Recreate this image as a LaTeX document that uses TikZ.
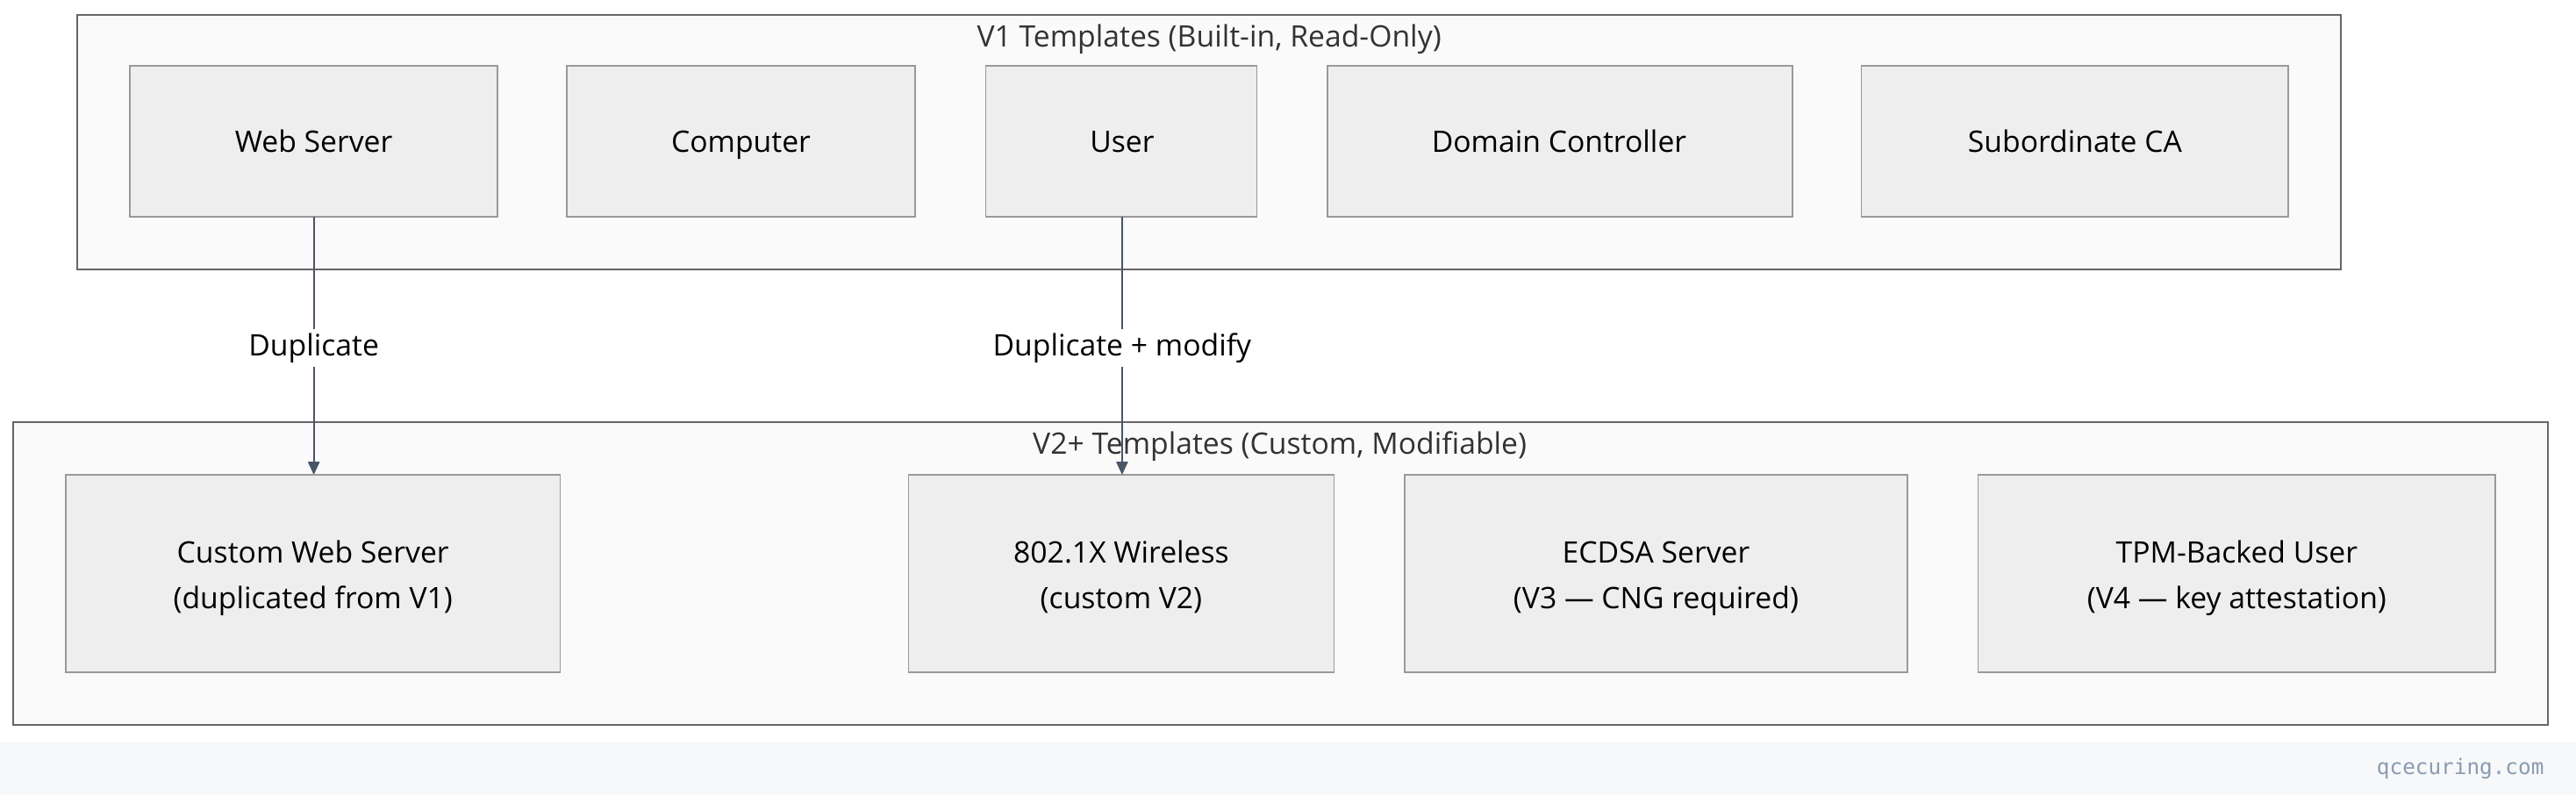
\documentclass[tikz,border=0pt]{standalone}
\usepackage{fontspec}
\setmainfont{Open Sans}
\setmonofont{DejaVu Sans Mono}
\usetikzlibrary{arrows.meta}
\definecolor{boxfill}{HTML}{EEEEEE}
\definecolor{boxdraw}{HTML}{999999}
\definecolor{grpfill}{HTML}{FAFAFA}
\definecolor{grpdraw}{HTML}{666666}
\definecolor{arr}{HTML}{4A5568}
\definecolor{strip}{HTML}{F6F8FA}
\definecolor{wm}{HTML}{8A9BB0}
\begin{document}
\begin{tikzpicture}[x=1pt,y=-1pt,
  grp/.style={draw=grpdraw,fill=grpfill,line width=1pt},
  box/.style={draw=boxdraw,fill=boxfill,line width=1pt},
  txt/.style={font=\fontsize{18}{28}\selectfont,align=center,text=black,text height=13pt,text depth=4pt},
  ttl/.style={font=\fontsize{18}{20}\selectfont,text=black!80,text height=13pt,text depth=4pt},
  lab/.style={font=\fontsize{18}{20}\selectfont,fill=white,inner sep=3pt,text height=13pt,text depth=4pt},
  conn/.style={draw=arr,line width=1.2pt,-{Triangle[length=8pt,width=7pt]}}]
\useasboundingbox (0,0) rectangle (1568,484);
\fill[white] (0,0) rectangle (1568,484);
\fill[strip] (0,452) rectangle (1568,484);
\node[font=\ttfamily\fontsize{13}{15}\selectfont,text=wm,anchor=east] (wm) at (1552,468) {qcecuring.com};
% V1
\draw[grp] (47,9) rectangle (1425,164);
\node[ttl] (t1) at (736,24) {V1 Templates (Built-in, Read-Only)};
\draw[box] (79,40) rectangle (303,132); \node[txt] (ws) at (191,88) {Web Server};
\draw[box] (345,40) rectangle (557,132); \node[txt] (cp) at (451,88) {Computer};
\draw[box] (600,40) rectangle (765,132); \node[txt] (us) at (683,88) {User};
\draw[box] (808,40) rectangle (1091,132); \node[txt] (dc) at (949,88) {Domain Controller};
\draw[box] (1133,40) rectangle (1393,132); \node[txt] (sc) at (1263,88) {Subordinate CA};
% V2
\draw[grp] (8,257) rectangle (1551,441);
\coordinate (wsb) at (191,132); \coordinate (usb) at (683,132);
\coordinate (cwt) at (191,289); \coordinate (wlt) at (683,289);
\draw[conn] (wsb) -- (cwt);
\draw[conn] (usb) -- (wlt);
\node[ttl] (t2) at (779,272) {V2+ Templates (Custom, Modifiable)};
\draw[box] (40,289) rectangle (341,409); \node[txt] (cw) at (190.5,366) {Custom Web Server\\(duplicated from V1)};
\draw[box] (553,289) rectangle (812,409); \node[txt] (wl) at (682.5,366) {802.1X Wireless\\(custom V2)};
\draw[box] (855,289) rectangle (1161,409); \node[txt] (ec) at (1008,366) {ECDSA Server\\(V3 — CNG required)};
\draw[box] (1204,289) rectangle (1519,409); \node[txt] (tp) at (1361.5,366) {TPM-Backed User\\(V4 — key attestation)};
\node[lab] (l1) at (191,212) {Duplicate};
\node[lab] (l2) at (683,212) {Duplicate + modify};
\end{tikzpicture}
\end{document}
